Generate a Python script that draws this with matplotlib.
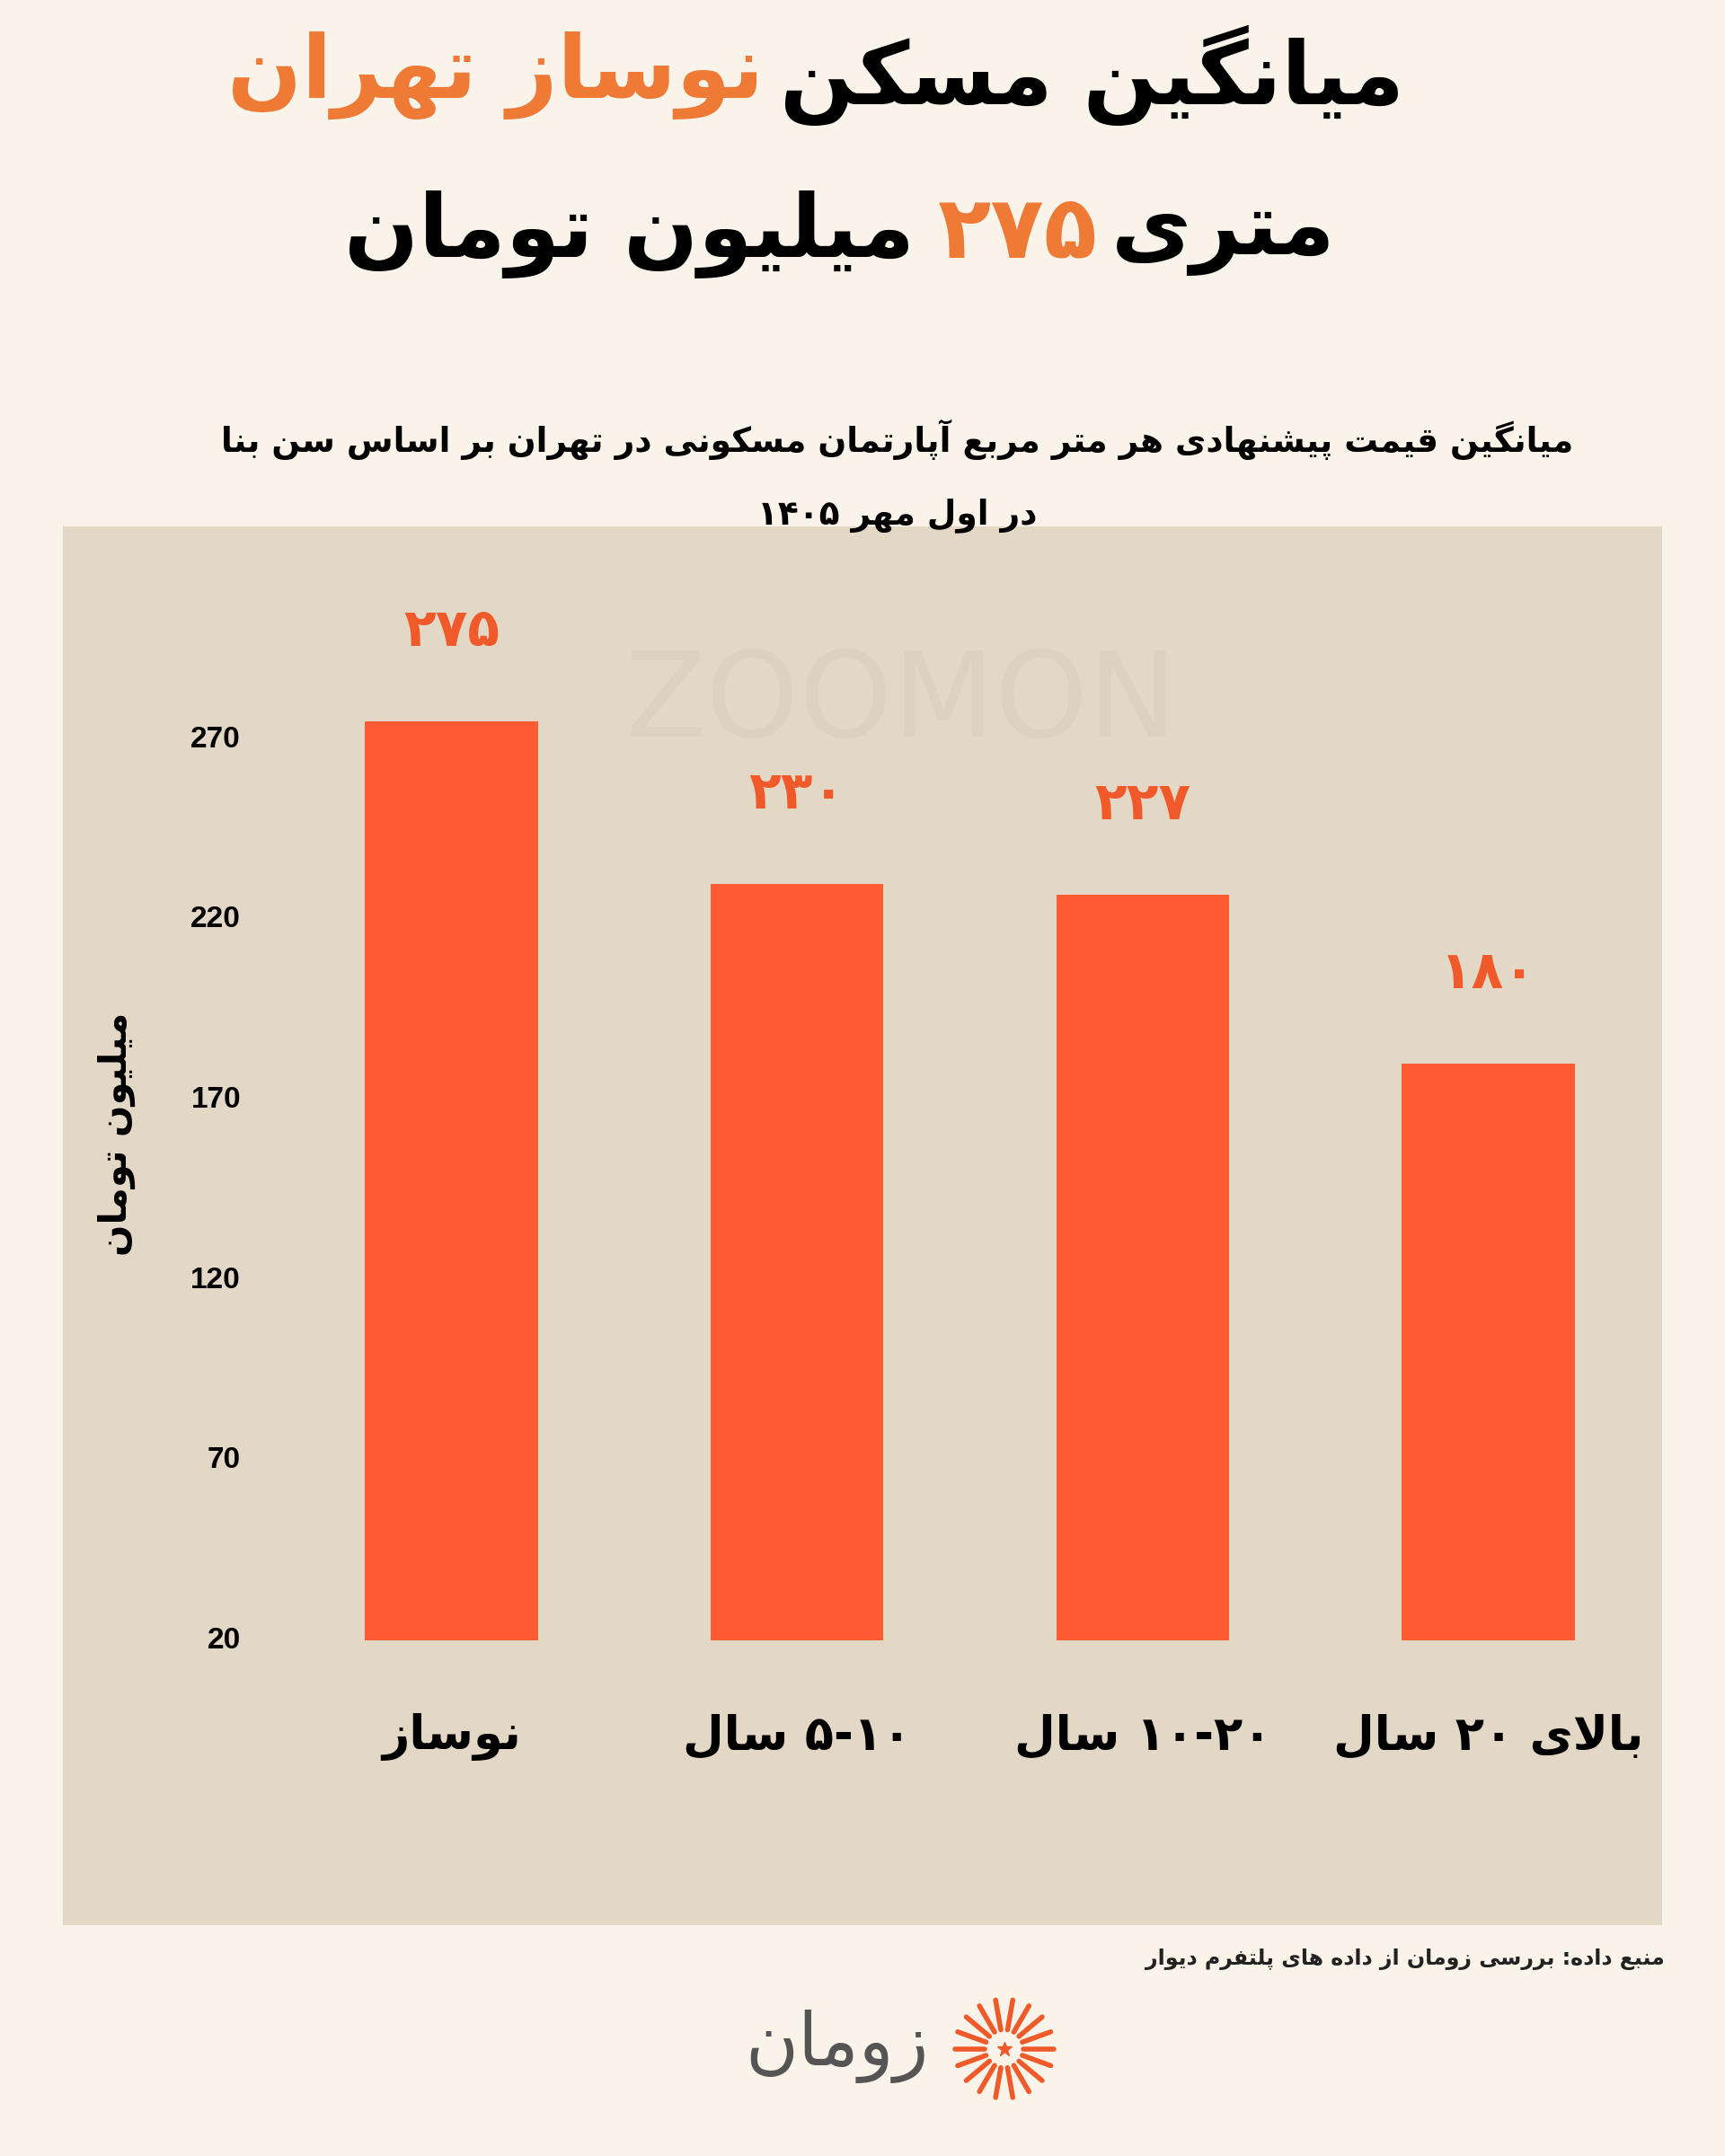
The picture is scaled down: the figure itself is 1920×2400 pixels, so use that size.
import matplotlib
matplotlib.use('Agg')
import matplotlib.pyplot as plt
import numpy as np

# داده ها
categories = ['نوساز', '۱۰-۵ سال', '۲۰-۱۰ سال', 'بالای ۲۰ سال']
values = [275, 230, 227, 180]
value_labels = ['۲۷۵', '۲۳۰', '۲۲۷', '۱۸۰']
yticks = [20, 70, 120, 170, 220, 270]

BG = '#FAF3E9'
PANEL = '#E3D8C5'
BAR = '#FF5C33'
ORANGE = '#EF7A36'

# --- minimal Persian shaping (presentation forms) ---
FORMS = {
    'ا': (0xFE8D, 0xFE8E), 'آ': (0xFE81, 0xFE82),
    'ب': (0xFE8F, 0xFE90, 0xFE91, 0xFE92), 'پ': (0xFB56, 0xFB57, 0xFB58, 0xFB59),
    'ت': (0xFE95, 0xFE96, 0xFE97, 0xFE98), 'ث': (0xFE99, 0xFE9A, 0xFE9B, 0xFE9C),
    'ج': (0xFE9D, 0xFE9E, 0xFE9F, 0xFEA0), 'چ': (0xFB7A, 0xFB7B, 0xFB7C, 0xFB7D),
    'ح': (0xFEA1, 0xFEA2, 0xFEA3, 0xFEA4), 'خ': (0xFEA5, 0xFEA6, 0xFEA7, 0xFEA8),
    'د': (0xFEA9, 0xFEAA), 'ذ': (0xFEAB, 0xFEAC), 'ر': (0xFEAD, 0xFEAE),
    'ز': (0xFEAF, 0xFEB0), 'ژ': (0xFB8A, 0xFB8B),
    'س': (0xFEB1, 0xFEB2, 0xFEB3, 0xFEB4), 'ش': (0xFEB5, 0xFEB6, 0xFEB7, 0xFEB8),
    'ص': (0xFEB9, 0xFEBA, 0xFEBB, 0xFEBC), 'ض': (0xFEBD, 0xFEBE, 0xFEBF, 0xFEC0),
    'ط': (0xFEC1, 0xFEC2, 0xFEC3, 0xFEC4), 'ظ': (0xFEC5, 0xFEC6, 0xFEC7, 0xFEC8),
    'ع': (0xFEC9, 0xFECA, 0xFECB, 0xFECC), 'غ': (0xFECD, 0xFECE, 0xFECF, 0xFED0),
    'ف': (0xFED1, 0xFED2, 0xFED3, 0xFED4), 'ق': (0xFED5, 0xFED6, 0xFED7, 0xFED8),
    'ک': (0xFB8E, 0xFB8F, 0xFB90, 0xFB91), 'گ': (0xFB92, 0xFB93, 0xFB94, 0xFB95),
    'ل': (0xFEDD, 0xFEDE, 0xFEDF, 0xFEE0), 'م': (0xFEE1, 0xFEE2, 0xFEE3, 0xFEE4),
    'ن': (0xFEE5, 0xFEE6, 0xFEE7, 0xFEE8), 'ه': (0xFEE9, 0xFEEA, 0xFEEB, 0xFEEC),
    'و': (0xFEED, 0xFEEE), 'ی': (0xFBFC, 0xFBFD, 0xFBFE, 0xFBFF),
}


def fa(s):
    out = []
    i = 0
    n = len(s)
    while i < n:
        c = s[i]
        if c not in FORMS:
            out.append(c)
            i += 1
            continue
        prev = s[i - 1] if i > 0 else ''
        prev_join = prev in FORMS and len(FORMS[prev]) == 4
        if c == 'ل' and i + 1 < n and s[i + 1] == 'ا':
            out.append(chr(0xFEFC if prev_join else 0xFEFB))
            i += 2
            continue
        nxt = s[i + 1] if i + 1 < n else ''
        f = FORMS[c]
        next_join = len(f) == 4 and nxt in FORMS
        if prev_join and next_join:
            g = f[3]
        elif prev_join:
            g = f[1]
        elif next_join:
            g = f[2]
        else:
            g = f[0]
        out.append(chr(g))
        i += 1
    # reverse, keeping digit runs in order
    tokens = []
    for ch in out:
        if ch.isdigit() and tokens and tokens[-1][0].isdigit():
            tokens[-1] += ch
        else:
            tokens.append(ch)
    return ''.join(reversed(tokens))


plt.rcParams['font.family'] = ['DejaVu Sans']

fig = plt.figure(figsize=(19.2, 24), dpi=100)
fig.patch.set_facecolor(BG)

W, H = 1254.0, 1568.0


def fx(x):
    return x / W


def fy(y):
    return 1 - y / H


# عنوان
TS = 70
fig.text(fx(555), fy(55), fa('نوساز تهران'), ha='right', va='center',
         fontsize=TS, fontweight='bold', color=ORANGE)
fig.text(fx(567), fy(55), fa('میانگین مسکن'), ha='left', va='center',
         fontsize=TS, fontweight='bold', color='black')
fig.text(fx(665), fy(170), fa('میلیون تومان'), ha='right', va='center',
         fontsize=TS, fontweight='bold', color='black')
fig.text(fx(740), fy(170), fa('۲۷۵'), ha='center', va='center',
         fontsize=TS, fontweight='bold', color=ORANGE)
fig.text(fx(808), fy(170), fa('متری'), ha='left', va='center',
         fontsize=TS, fontweight='bold', color='black')

fig.text(fx(652), fy(320), fa('میانگین قیمت پیشنهادی هر متر مربع آپارتمان مسکونی در تهران بر اساس سن بنا'),
         ha='center', va='center', fontsize=27, fontweight='bold')
fig.text(fx(652), fy(375), fa('در اول مهر ۱۴۰۵'),
         ha='center', va='center', fontsize=27, fontweight='bold')

# پنل نمودار
ax = fig.add_axes([fx(46), fy(1400), fx(1208) - fx(46), fy(383) - fy(1400)])
ax.set_facecolor(PANEL)
ax.set_zorder(-1)
px_per_unit = (1193 - 538) / 250.0
ymax = 20 + (1193 - 383) / px_per_unit
ymin = 20 - (1400 - 1193) / px_per_unit
ax.set_ylim(ymin, ymax)
ax.set_xlim(-(328 - 46) / 251.0, 3 + (1208 - 1082) / 251.0)

x = np.arange(len(values))
ax.bar(x, [v - 20 for v in values], bottom=20, width=0.5, color=BAR, zorder=2)

for xi, v, lab in zip(x, values, value_labels):
    ax.text(xi, v + 18, fa(lab), ha='center', va='bottom', fontsize=42,
            fontweight='bold', color='#F05A2A', zorder=3)

for t in yticks:
    ax.text(-(328 - 175) / 251.0, t, str(t), ha='right', va='center',
            fontsize=24, fontweight='bold', family='Liberation Sans')

for xi, c in zip(x, categories):
    ax.text(xi, 20 - (1263 - 1193) / px_per_unit, fa(c), ha='center', va='center',
            fontsize=38, fontweight='bold')

ax.text(-(328 - 85) / 251.0, 20 + (1193 - 825) / px_per_unit, fa('میلیون تومان'),
        rotation=90, ha='center', va='center', fontsize=30, fontweight='bold')

# واترمارک
ax.text(1.3, 20 + (1193 - 512) / px_per_unit, 'ZOOMON', ha='center', va='center',
        fontsize=95, color='#DACFBC', alpha=0.6, zorder=1)

ax.set_xticks([])
ax.set_yticks([])
for s in ax.spines.values():
    s.set_visible(False)

# منبع
fig.text(fx(1210), fy(1425), fa('منبع داده: بررسی زومان از داده های پلتفرم دیوار'),
         ha='right', va='center', fontsize=17, fontweight='bold', color='#222222')

# لوگو
fig.text(fx(675), fy(1488), fa('زومان'), ha='right', va='center', fontsize=58,
         color='#555555')
lax = fig.add_axes([fx(690), fy(1530), fx(80), fy(0) - fy(80)])
lax.set_xlim(-1, 1)
lax.set_ylim(-1, 1)
lax.axis('off')
lax.set_aspect('equal')
ang = np.linspace(0, 2 * np.pi, 18, endpoint=False)
for a in ang:
    lax.plot([0.35 * np.cos(a), 0.9 * np.cos(a)], [0.35 * np.sin(a), 0.9 * np.sin(a)],
             color='#F05A2A', lw=4, solid_capstyle='round')
lax.plot(0, 0, marker='*', color='#F05A2A', markersize=12)

fig.savefig('out.png', dpi=100, facecolor=BG)
